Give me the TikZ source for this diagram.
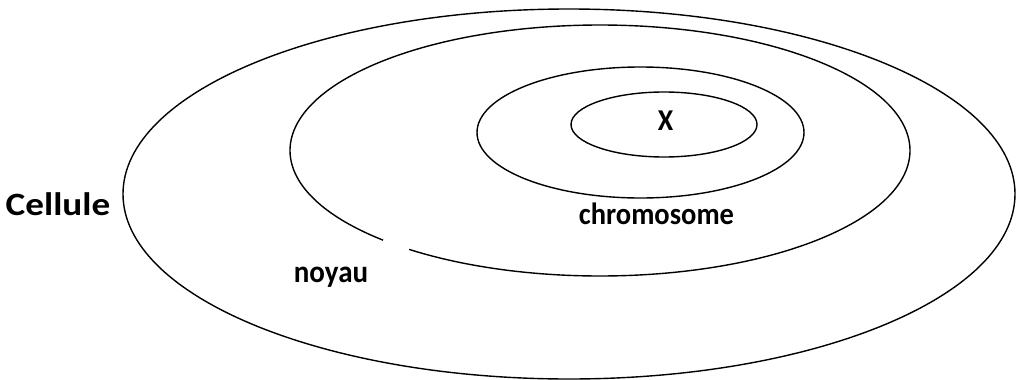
\documentclass[tikz,border=0pt]{standalone}
\usepackage{fontspec}
\setmainfont{Carlito}
\begin{document}
\begin{tikzpicture}[x=1pt,y=-1pt,
  ring/.style={line width=1.4pt},
  lab/.style={font=\bfseries, inner sep=0pt, anchor=base}]
\useasboundingbox (0,0) rectangle (1017,380);
% cellule
\draw[ring] (569,194) ellipse [x radius=446, y radius=185];
% noyau with a small gap
\draw[ring] (600,150.5) ++(134.4:310 and 125.5)
  arc[start angle=134.4, end angle=488, x radius=310, y radius=125.5];
% chromosome
\draw[ring] (640.5,132.5) ellipse [x radius=163.5, y radius=65.5];
% X
\draw[ring] (664,124.5) ellipse [x radius=93, y radius=32.5];
\node[lab, font=\bfseries\fontsize{31}{31}\selectfont, xscale=1.2, yscale=1.05] (cellule) at (58,215) {Cellule};
\node[lab, font=\bfseries\fontsize{28.5}{28.5}\selectfont, yscale=1.08] (chromo) at (656.5,224) {chromosome};
\node[lab, font=\bfseries\fontsize{29}{29}\selectfont, yscale=1.08] (noyau) at (331,282) {noyau};
\node[lab, font=\bfseries\fontsize{28}{28}\selectfont, yscale=1.08] (x) at (665.5,130) {X};
\end{tikzpicture}
\end{document}
